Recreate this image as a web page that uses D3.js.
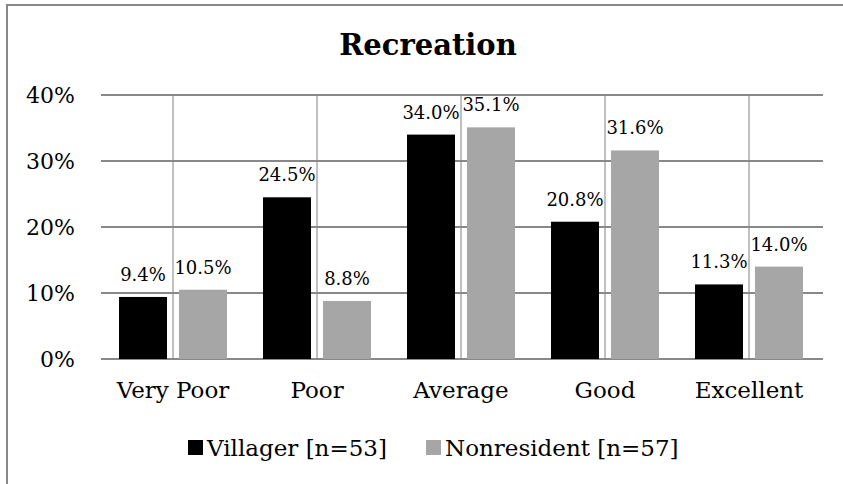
<!DOCTYPE html>
<meta charset="utf-8">
<style>
    body { margin: 0; background: #ffffff; overflow: hidden; }
    svg { display: block; }
    text { font-family: Georgia, 'DejaVu Serif', 'Liberation Serif', serif; fill: #000; }
</style>

<script src="https://d3js.org/d3.v7.min.js"></script>

<svg id="chart" width="843" height="484"></svg>

<script>

// Data
var categories = ['Very Poor', 'Poor', 'Average', 'Good', 'Excellent'];
var seriesNames = ['Villager [n=53]', 'Nonresident [n=57]'];
var villager = [9.4, 24.5, 34.0, 20.8, 11.3];
var nonresident = [10.5, 8.8, 35.1, 31.6, 14.0];
var yTicks = [0, 10, 20, 30, 40];
var colors = ['#000000', '#a6a6a6'];

var svg = d3.select('svg#chart');

// Plot geometry
var plot = { left: 101, right: 821, top: 95, bottom: 359 };

var x0 = d3.scaleBand()
    .domain(categories)
    .range([plot.left, plot.right]);

var x1 = d3.scaleBand()
    .domain(seriesNames)
    .range([18, x0.bandwidth() - 18])
    .paddingInner(0.2);

var y = d3.scaleLinear()
    .domain([0, 40])
    .range([plot.bottom, plot.top]);

// Outer chart border (only top and left edges fall inside the frame)
svg.append('path')
    .attr('d', 'M7,484 L7,5 L843,5')
    .attr('fill', 'none')
    .attr('stroke', '#888888')
    .attr('stroke-width', 2);

// Title
svg.append('text')
    .attr('x', 428).attr('y', 55)
    .attr('text-anchor', 'middle')
    .style('font-size', '29px')
    .style('font-weight', 'bold')
    .text('Recreation');

// Vertical gridlines at category centres
svg.append('g')
    .selectAll('line')
    .data(categories)
    .join('line')
    .attr('x1', function(d) { return x0(d) + x0.bandwidth() / 2; })
    .attr('x2', function(d) { return x0(d) + x0.bandwidth() / 2; })
    .attr('y1', plot.top)
    .attr('y2', plot.bottom)
    .attr('stroke', '#c0c0c0')
    .attr('stroke-width', 2);

// Horizontal gridlines
svg.append('g')
    .selectAll('line')
    .data(yTicks)
    .join('line')
    .attr('x1', plot.left)
    .attr('x2', plot.right + 2)
    .attr('y1', function(d) { return y(d); })
    .attr('y2', function(d) { return y(d); })
    .attr('stroke', '#888888')
    .attr('stroke-width', 2);

// Y axis labels
var yAxis = d3.axisLeft(y)
    .tickValues(yTicks)
    .tickFormat(function(d) { return d + '%'; })
    .tickSize(0)
    .tickPadding(26);

svg.append('g')
    .attr('transform', 'translate(' + plot.left + ',0)')
    .call(yAxis)
    .call(function(g) { g.select('.domain').remove(); })
    .selectAll('text')
    .style('font-family', "Georgia, 'DejaVu Serif', serif")
    .style('font-size', '22px')
    .attr('fill', '#000');

// X axis labels
var xAxis = d3.axisBottom(x0)
    .tickSize(0)
    .tickPadding(23);

svg.append('g')
    .attr('transform', 'translate(0,' + plot.bottom + ')')
    .call(xAxis)
    .call(function(g) { g.select('.domain').remove(); })
    .selectAll('text')
    .style('font-family', "Georgia, 'DejaVu Serif', serif")
    .style('font-size', '23px')
    .attr('fill', '#000');

// Bars
var rows = categories.map(function(c, i) {
    return { category: c, values: [
        { name: seriesNames[0], value: villager[i], color: colors[0] },
        { name: seriesNames[1], value: nonresident[i], color: colors[1] }
    ] };
});

var groups = svg.append('g')
    .selectAll('g')
    .data(rows)
    .join('g')
    .attr('transform', function(d) { return 'translate(' + x0(d.category) + ',0)'; });

groups.selectAll('rect')
    .data(function(d) { return d.values; })
    .join('rect')
    .attr('x', function(d) { return x1(d.name); })
    .attr('width', x1.bandwidth())
    .attr('y', function(d) { return y(d.value); })
    .attr('height', function(d) { return y(0) - y(d.value); })
    .attr('fill', function(d) { return d.color; });

groups.selectAll('text')
    .data(function(d) { return d.values; })
    .join('text')
    .attr('x', function(d) { return x1(d.name) + x1.bandwidth() / 2; })
    .attr('y', function(d) { return y(d.value) - 16; })
    .attr('text-anchor', 'middle')
    .style('font-size', '18px')
    .text(function(d) { return d.value.toFixed(1) + '%'; });

// Legend
var legendX = [188, 426];
var legend = svg.append('g')
    .selectAll('g')
    .data(seriesNames)
    .join('g')
    .attr('transform', function(d, i) { return 'translate(' + legendX[i] + ',440)'; });

legend.append('rect')
    .attr('width', 15)
    .attr('height', 15)
    .attr('fill', function(d, i) { return colors[i]; });

legend.append('text')
    .attr('x', 19)
    .attr('y', 16)
    .style('font-size', '23px')
    .text(function(d) { return d; });

</script>
